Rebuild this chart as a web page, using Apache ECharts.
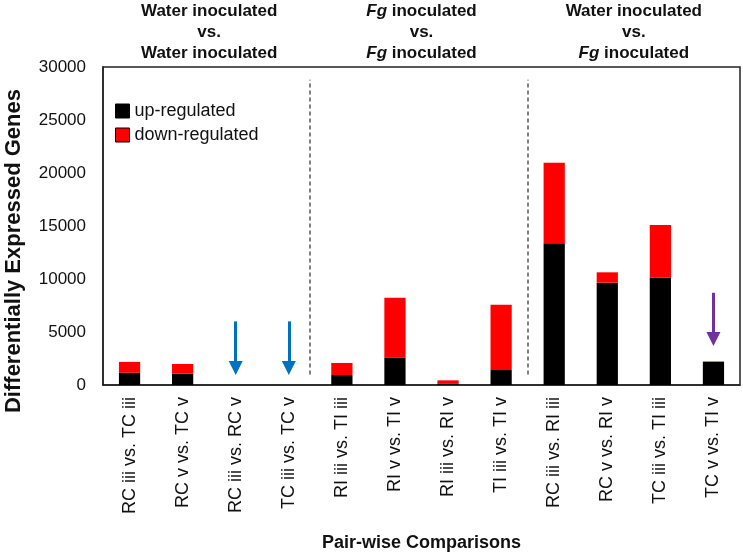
<!DOCTYPE html>
<html>
<head>
<meta charset="utf-8">
<script src="https://cdn.jsdelivr.net/npm/echarts@6/dist/echarts.min.js"></script>
<style>html,body{margin:0;padding:0;background:#fff}#c{width:743px;height:557px}</style>
</head>
<body>
<div id="c"></div>
<script>
const categories = ['RC iii vs. TC iii','RC v vs. TC v','RC iii vs. RC v','TC iii vs. TC v','RI iii vs. TI iii','RI v vs. TI v','RI iii vs. RI v','TI iii vs. TI v','RC iii vs. RI iii','RC v vs. RI v','TC iii vs. TI iii','TC v vs. TI v'];
const upRegulated   = [1150, 1060, 0, 0, 940, 2600, 150, 1410, 13370, 9650, 10150, 2200];
const downRegulated = [1030, 920, 0, 0, 1140, 5620, 290, 6155, 7600, 980, 4950, 20];
const yTicks = {min: 0, max: 30000, interval: 5000};
const groupHeaders = [
  ['Water inoculated', 'vs.', 'Water inoculated'],
  ['{i|Fg} inoculated', 'vs.', '{i|Fg} inoculated'],
  ['Water inoculated', 'vs.', '{i|Fg} inoculated']
];
const groupCenters = [2, 6, 10];      // in category-slot units (0..12)
const dividerPos = [3.9, 8];          // separators in category-slot units
const dividerRange = [1000, 28800];
const arrowCats = [2, 3, 11];
const arrowTop = [6000, 6000, 8700];
const arrowEnd = [1600, 1600, 4350];
const arrowColors = ['#0070C0', '#0070C0', '#7030A0'];

const FONT = 'Liberation Sans, Arial, sans-serif';
const chart = echarts.init(document.getElementById('c'), null, {renderer: 'canvas'});

const arrowData = arrowCats.map((c, i) => [
  {coord: [categories[c], arrowTop[i]], lineStyle: {color: arrowColors[i], width: 3, type: 'solid'}, itemStyle: {color: arrowColors[i]}},
  {coord: [categories[c], arrowEnd[i]], lineStyle: {color: arrowColors[i], width: 3, type: 'solid'}, itemStyle: {color: arrowColors[i]}}
]);
const dividerData = dividerPos.map(p => [
  {coord: [p, dividerRange[0]]},
  {coord: [p, dividerRange[1]]}
]);

chart.setOption({
  animation: false,
  backgroundColor: '#fff',
  textStyle: {fontFamily: FONT},
  grid: {left: 103, right: 3, top: 67, bottom: 170, show: true, borderColor: '#222', borderWidth: 1.5, containLabel: false},
  legend: {
    orient: 'vertical', left: 110, top: 97, itemWidth: 14, itemHeight: 14, itemGap: 6,
    icon: 'rect',
    itemStyle: {borderColor: '#000', borderWidth: 1},
    textStyle: {fontSize: 18, color: '#111', fontFamily: FONT},
    data: ['up-regulated', 'down-regulated']
  },
  xAxis: [{
    type: 'category', data: categories,
    axisLine: {show: true, lineStyle: {color: '#222', width: 1.5}},
    axisTick: {show: false},
    axisLabel: {rotate: 90, interval: 0, margin: 12, fontSize: 18, color: '#111', fontFamily: FONT},
    name: 'Pair-wise Comparisons', nameLocation: 'middle', nameGap: 149,
    nameTextStyle: {fontSize: 18, fontWeight: 'bold', color: '#111', fontFamily: FONT}
  }, {
    type: 'value', min: 0, max: 12, show: false
  }],
  yAxis: {
    type: 'value', min: yTicks.min, max: yTicks.max, interval: yTicks.interval,
    axisLine: {show: true, lineStyle: {color: '#222', width: 1.5}},
    axisTick: {show: false},
    splitLine: {show: false},
    axisLabel: {fontSize: 17, margin: 17, color: '#111', fontFamily: FONT, formatter: v => String(v)}
  },
  series: [{
    name: 'up-regulated', type: 'bar', stack: 'deg', data: upRegulated, barWidth: '40%',
    itemStyle: {color: '#000000'},
    markLine: {silent: true, symbol: ['none', 'triangle'], symbolSize: [14, 14], label: {show: false}, data: arrowData}
  }, {
    name: 'down-regulated', type: 'bar', stack: 'deg', data: downRegulated, barWidth: '40%',
    itemStyle: {color: '#FF0000'}
  }, {
    name: 'dividers', type: 'line', xAxisIndex: 1, data: [],
    markLine: {silent: true, symbol: ['none', 'none'], label: {show: false},
      lineStyle: {color: '#555', width: 1.5, type: [4, 3]}, data: dividerData}
  }]
});

const headerGraphics = groupHeaders.map((lines, gi) => ({
  type: 'text',
  x: chart.convertToPixel({xAxisIndex: 1}, groupCenters[gi]),
  y: 32,
  style: {
    text: lines.join('\n'),
    align: 'center', verticalAlign: 'middle',
    fontFamily: FONT, fontSize: 17, fontWeight: 'bold', lineHeight: 21, fill: '#111',
    rich: {i: {fontStyle: 'italic', fontWeight: 'bold', fontSize: 17, fontFamily: FONT, lineHeight: 21, fill: '#111'}}
  }
}));
headerGraphics.push({
  type: 'text', x: 14, y: 251, rotation: Math.PI / 2,
  style: {text: 'Differentially Expressed Genes', align: 'center', verticalAlign: 'middle',
    fontFamily: FONT, fontSize: 22, fontWeight: 'bold', fill: '#111'}
});
chart.setOption({graphic: headerGraphics});
</script>
</body>
</html>
